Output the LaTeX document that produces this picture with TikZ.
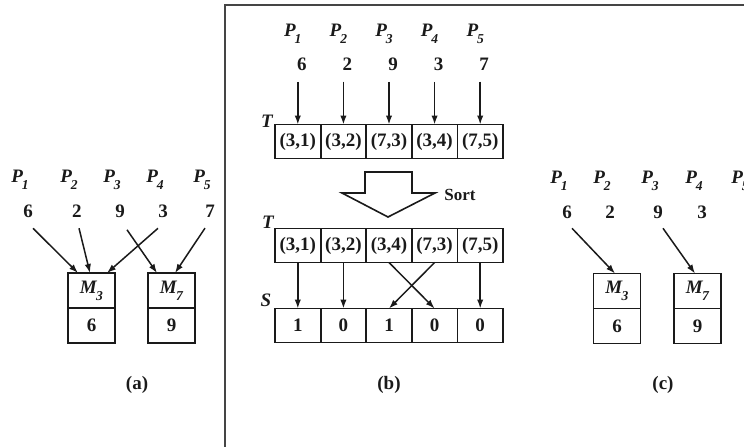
\documentclass[tikz,border=0pt]{standalone}
\usepackage{fontspec}
\setmainfont{Liberation Serif}
\usetikzlibrary{positioning,arrows.meta,calc}
\definecolor{ink}{HTML}{1A1A1A}
\definecolor{rulegray}{HTML}{454545}
\newcommand{\pp}[1]{\textit{P}\kern-0.6pt\raisebox{-3.6pt}{\fontsize{6.8}{7}\selectfont\itshape #1}}
\newcommand{\mm}[1]{\textit{M}\kern-0.6pt\raisebox{-3.6pt}{\fontsize{6.8}{7}\selectfont\itshape #1}}
\tikzset{
  lbl/.style    ={font=\fontsize{9.5}{11}\selectfont\bfseries, text=ink, inner sep=1pt},
  cell/.style   ={draw=ink, line width=0.9pt, minimum width=22.8pt, minimum height=17pt,
                  inner sep=0pt, outer sep=0pt, font=\fontsize{9.5}{11}\selectfont\bfseries, text=ink},
  mcell/.style  ={cell, minimum width=23.5pt, minimum height=17.5pt},
  arr/.style    ={-{Latex[length=4.5pt,width=3.2pt]}, line width=0.75pt, draw=ink},
  hollow/.style ={draw=ink, line width=0.8pt, fill=white, line join=miter},
  frame/.style  ={draw=rulegray, line width=1.3pt},
}
\begin{document}
\begin{tikzpicture}[x=0.5pt,y=-0.5pt]
\useasboundingbox (0,0) rectangle (744,446);
\clip (0,0) rectangle (744,446);
\draw[frame] (225,452) -- (225,5) -- (752,5);

% (a) processors and merged cells
\foreach \i/\x/\v in {1/28/6,2/77/2,3/120/9,4/163/3,5/210/7}{
  \node[lbl] (pa\i) at (\x-8,180) {\pp{\i}};
  \node[lbl] (na\i) at (\x,211) {\v};
}
\node[mcell] (ma3) at (91.5,290.5) {\mm{3}};
\node[mcell, below=0pt of ma3] (va3) {6};
\node[mcell] (ma7) at (171.5,290.5) {\mm{7}};
\node[mcell, below=0pt of ma7] (va7) {9};
\draw[arr] ($(na1.south)+(5,8.5)$) -- ($(ma3.north)+(-13.5,0)$);
\draw[arr] ($(na2.south)+(2,8.5)$) -- ($(ma3.north)+(-1.5,0)$);
\draw[arr] ($(na4.south)+(-5,8.5)$) -- ($(ma3.north)+(15.5,0)$);
\draw[arr] ($(na3.south)+(7,10)$) -- ($(ma7.north)+(-14.5,0)$);
\draw[arr] ($(na5.south)+(-5,8.5)$) -- ($(ma7.north)+(3.5,0)$);
\node[lbl] (capa) at (137,385) {(a)};

% (b) sort of (address, processor) pairs
\foreach \i/\ta/\ua/\v/\sv in {1/{(3,1)}/{(3,1)}/6/1,2/{(3,2)}/{(3,2)}/2/0,3/{(7,3)}/{(3,4)}/9/1,4/{(3,4)}/{(7,3)}/3/0,5/{(7,5)}/{(7,5)}/7/0}{
  \node[cell] (t\i) at ({275+45.6*(\i-0.5)},141.5) {\ta};
  \node[cell] (u\i) at ({275+45.6*(\i-0.5)},245.5) {\ua};
  \node[cell] (s\i) at ({275+45.6*(\i-0.5)},325.5) {\sv};
  \node[lbl] (pb\i) at ({275+45.6*(\i-0.5)-5},34) {\pp{\i}};
  \node[lbl] (nb\i) at ({275+45.6*(\i-0.5)+4},64) {\v};
  \draw[arr, shorten <=4.5pt] (t\i.north |- nb\i.south) -- (t\i.north);
}
\node[lbl, font=\fontsize{9.5}{11}\selectfont\bfseries\itshape] (tlab) at (267,121) {T};
\node[lbl, font=\fontsize{9.5}{11}\selectfont\bfseries\itshape] (ulab) at (268,222) {T};
\node[lbl, font=\fontsize{9.5}{11}\selectfont\bfseries\itshape] (slab) at (266,300) {S};
\draw[hollow] (365,172) -- (412,172) -- (412,193) -- (435,193) -- (388,217)
  -- (342,193) -- (365,193) -- cycle;
\node[lbl, font=\fontsize{8.5}{10}\selectfont\bfseries] (sortlbl) at (460,195) {Sort};
\draw[arr] (u1.south) -- (s1.north);
\draw[arr] (u2.south) -- (s2.north);
\draw[arr] (u3.south) -- (s4.north);
\draw[arr] (u4.south) -- (s3.north);
\draw[arr] (u5.south) -- (s5.north);
\node[lbl] (capb) at (389,385) {(b)};

% (c) winners write
\foreach \i/\x/\v in {1/567/6,2/610/2,3/658/9,4/702/3}{
  \node[lbl] (pc\i) at (\x-8,181) {\pp{\i}};
  \node[lbl] (nc\i) at (\x,212) {\v};
}
\node[lbl] (pc5) at (740,181) {\pp{5}};
\node[mcell] (mc3) at (617,291) {\mm{3}};
\node[mcell, below=0pt of mc3] (vc3) {6};
\node[mcell] (mc7) at (697.5,291) {\mm{7}};
\node[mcell, below=0pt of mc7] (vc7) {9};
\draw[arr] ($(nc1.south)+(5,7.5)$) -- ($(mc3.north)+(-2,0)$);
\draw[arr] ($(nc3.south)+(5,7.5)$) -- ($(mc7.north)+(-2.5,0)$);
\node[lbl] (capc) at (663,385) {(c)};
\end{tikzpicture}
\end{document}
